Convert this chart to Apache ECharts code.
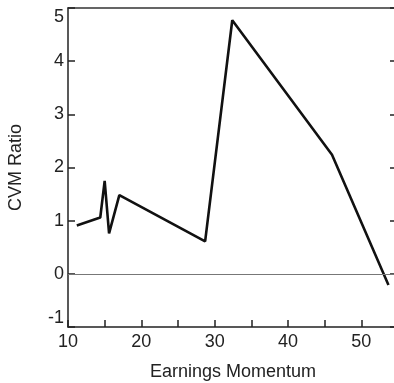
<!DOCTYPE html>
<html>
<head>
<meta charset="utf-8">
<script src="https://cdn.jsdelivr.net/npm/echarts@6/dist/echarts.min.js"></script>
<style>
html,body{margin:0;padding:0;background:#fff;}
#c{width:394px;height:383px;}
</style>
</head>
<body>
<div id="c"></div>
<script>
var xValues = [11.2, 14.4, 15.0, 15.6, 17.0, 28.7, 32.4, 46.0, 53.7];
var yValues = [0.91, 1.06, 1.75, 0.76, 1.48, 0.61, 4.77, 2.24, -0.21];
var xLabelTicks = [10, 20, 30, 40, 50];
var yLabelTicks = [-1, 0, 1, 2, 3, 4, 5];

var font = '"Liberation Sans", Arial, sans-serif';
var pts = xValues.map(function (x, i) { return [x, yValues[i]]; });

var chart = echarts.init(document.getElementById('c'), null, {renderer: 'canvas'});
chart.setOption({
  animation: false,
  backgroundColor: '#fff',
  grid: {left: 68, right: -4, top: 8, bottom: 56, containLabel: false, outerBoundsMode: 'none'},
  xAxis: [{
    type: 'value', min: 10, max: 55, interval: 5,
    name: 'Earnings Momentum', nameLocation: 'middle', nameGap: 36,
    nameTextStyle: {fontFamily: font, fontSize: 18, color: '#222'},
    axisLine: {show: true, onZero: false, lineStyle: {color: '#222', width: 1.5}},
    axisTick: {show: true, inside: true, length: 7, lineStyle: {color: '#222', width: 1.5}},
    axisLabel: {
      margin: 6, fontFamily: font, fontSize: 18, color: '#222',
      formatter: function (v) { return xLabelTicks.indexOf(v) >= 0 ? String(v) : ''; }
    },
    splitLine: {show: false}
  }, {
    type: 'value', min: 10, max: 55, position: 'top',
    axisLine: {show: true, onZero: false, lineStyle: {color: '#333', width: 1.5}},
    axisTick: {show: false}, axisLabel: {show: false}, splitLine: {show: false}
  }],
  yAxis: [{
    type: 'value', min: -1, max: 5, interval: 1,
    name: 'CVM Ratio', nameLocation: 'middle', nameGap: 43,
    nameTextStyle: {fontFamily: font, fontSize: 18, color: '#222'},
    axisLine: {show: true, onZero: false, lineStyle: {color: '#222', width: 1.5}},
    axisTick: {show: true, inside: true, length: 7, lineStyle: {color: '#222', width: 1.5}},
    axisLabel: {
      margin: 4, fontFamily: font, fontSize: 18, color: '#222',
      verticalAlignMaxLabel: 'top', verticalAlignMinLabel: 'bottom',
      formatter: function (v) { return yLabelTicks.indexOf(v) >= 0 ? String(v) : ''; }
    },
    splitLine: {show: false}
  }, {
    type: 'value', min: -1, max: 5, interval: 1, position: 'right',
    axisLine: {show: true, onZero: false, lineStyle: {color: '#222', width: 1.5}},
    axisTick: {show: true, inside: true, length: 8, lineStyle: {color: '#222', width: 1.5}},
    axisLabel: {show: false}, splitLine: {show: false}
  }],
  series: [{
    type: 'line', data: pts, symbol: 'none',
    lineStyle: {color: '#111', width: 2.6},
    markLine: {
      silent: true, symbol: 'none', label: {show: false},
      lineStyle: {color: '#777', width: 1, type: 'solid'},
      data: [{yAxis: 0}]
    }
  }]
});
</script>
</body>
</html>
